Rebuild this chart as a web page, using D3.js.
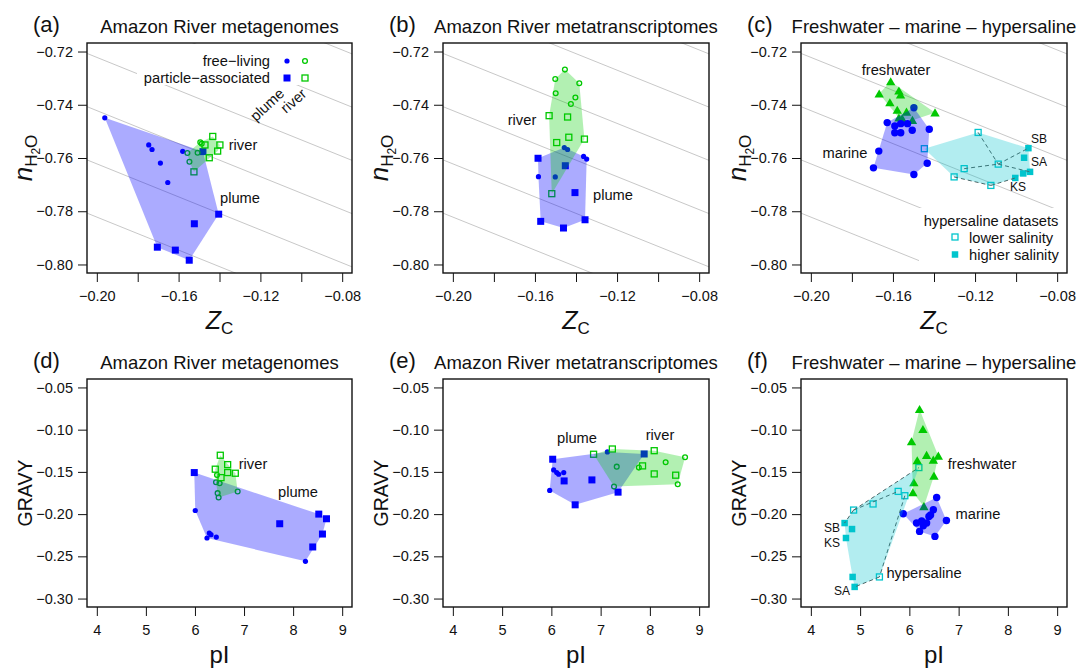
<!DOCTYPE html>
<html>
<head>
<meta charset="utf-8">
<script src="https://cdn.jsdelivr.net/npm/d3@7"></script>
<style>
body { margin: 0; background: #fff; }
text { font-family: "Liberation Sans", Arial, Helvetica, sans-serif; fill: #111; }
</style>
</head>
<body>
<div id="chart"></div>
<script>

// ---- data: (a) Amazon River metagenomes, [ZC, nH2O] ----
var mgPlumeFL = [[-0.1961,-0.7449],[-0.1746,-0.7551],[-0.1730,-0.7568],[-0.1689,-0.7619],[-0.1653,-0.7692],[-0.1580,-0.7575]];
var mgPlumePA = [[-0.1481,-0.7576],[-0.1404,-0.7811],[-0.1523,-0.7847],[-0.1704,-0.7935],[-0.1616,-0.7946],[-0.1548,-0.7984]];
var mgRiverFL = [[-0.1494,-0.7541],[-0.1487,-0.7546],[-0.1507,-0.7580],[-0.1557,-0.7581],[-0.1547,-0.7614]];
var mgRiverPA = [[-0.1433,-0.7519],[-0.1471,-0.7551],[-0.1398,-0.7551],[-0.1409,-0.7574],[-0.1450,-0.7599],[-0.1525,-0.7652]];

// ---- (b) Amazon River metatranscriptomes, [ZC, nH2O] ----
var mtPlumeFL = [[-0.1457,-0.7561],[-0.1441,-0.7568],[-0.1363,-0.7594],[-0.1348,-0.7604],[-0.1583,-0.7670],[-0.1501,-0.7671]];
var mtPlumePA = [[-0.1585,-0.7601],[-0.1452,-0.7629],[-0.1405,-0.7730],[-0.1572,-0.7838],[-0.1461,-0.7863],[-0.1356,-0.7832]];
var mtRiverFL = [[-0.1454,-0.7268],[-0.1501,-0.7303],[-0.1384,-0.7319],[-0.1499,-0.7357],[-0.1403,-0.7373],[-0.1425,-0.7397]];
var mtRiverPA = [[-0.1531,-0.7441],[-0.1441,-0.7446],[-0.1435,-0.7522],[-0.1494,-0.7542],[-0.1359,-0.7529],[-0.1518,-0.7734]];

// ---- (c) freshwater / marine / hypersaline, [ZC, nH2O] ----
var fwZC = [[-0.1611,-0.7313],[-0.1667,-0.7359],[-0.1571,-0.7348],[-0.1563,-0.7363],[-0.1615,-0.7392],[-0.1579,-0.7420],[-0.1534,-0.7427],[-0.1395,-0.7430],[-0.1571,-0.7449],[-0.1555,-0.7452],[-0.1505,-0.7458]];
var marZC = [[-0.1498,-0.7411],[-0.1628,-0.7467],[-0.1591,-0.7480],[-0.1562,-0.7471],[-0.1529,-0.7471],[-0.1506,-0.7496],[-0.1591,-0.7505],[-0.1562,-0.7505],[-0.1423,-0.7492],[-0.1669,-0.7574],[-0.1695,-0.7637],[-0.1498,-0.7662],[-0.1433,-0.7620]];
var hsLowZC = [[-0.1185,-0.7504],[-0.1447,-0.7565],[-0.1087,-0.7623],[-0.1253,-0.7640],[-0.1302,-0.7671],[-0.1123,-0.7703]];
var hsHighZC = [[-0.0940,-0.7563],[-0.0961,-0.7599],[-0.0932,-0.7652],[-0.0965,-0.7658],[-0.1004,-0.7675]];
// dashed links between hypersaline samples: [set, index, set, index]
var hsLinksZC = [["L",0,"L",2],["L",2,"H",0],["L",3,"L",2],["L",2,"H",2],["L",4,"L",5],["L",5,"H",4]];

// ---- (d) metagenomes, [pI, GRAVY] ----
var mgPlumeFL2 = [[6.006,-0.1957],[6.292,-0.2224],[6.327,-0.2244],[6.245,-0.2283],[6.435,-0.2272],[8.251,-0.2559]];
var mgPlumePA2 = [[5.986,-0.1508],[7.727,-0.2114],[8.523,-0.2000],[8.680,-0.2055],[8.598,-0.2236],[8.400,-0.2389]];
var mgRiverFL2 = [[6.449,-0.1536],[6.429,-0.1622],[6.503,-0.1634],[6.870,-0.1733],[6.462,-0.1752],[6.482,-0.1804]];
var mgRiverPA2 = [[6.516,-0.1303],[6.666,-0.1414],[6.414,-0.1468],[6.666,-0.1508],[6.822,-0.1516],[6.531,-0.1568]];

// ---- (e) metatranscriptomes, [pI, GRAVY] ----
var mtPlumeFL2 = [[6.047,-0.1477],[6.108,-0.1508],[6.149,-0.1528],[6.251,-0.1508],[5.966,-0.1720],[7.137,-0.1264]];
var mtPlumePA2 = [[6.027,-0.1350],[6.259,-0.1607],[6.823,-0.1595],[6.483,-0.1890],[7.354,-0.1740],[7.884,-0.1288]];
var mtRiverFL2 = [[7.327,-0.1438],[7.272,-0.1674],[7.776,-0.1449],[8.320,-0.1386],[8.714,-0.1327],[8.565,-0.1646]];
var mtRiverPA2 = [[6.857,-0.1291],[7.238,-0.1229],[8.088,-0.1249],[7.851,-0.1429],[8.088,-0.1524],[8.524,-0.1539]];

// ---- (f) freshwater / marine / hypersaline, [pI, GRAVY] ----
var fwPI = [[6.207,-0.0760],[6.275,-0.0996],[6.044,-0.1142],[6.350,-0.1303],[6.588,-0.1311],[6.486,-0.1359],[6.160,-0.1367],[6.091,-0.1627],[6.499,-0.1548],[6.071,-0.1745],[6.295,-0.1910]];
var marPI = [[5.875,-0.1996],[6.554,-0.1804],[6.487,-0.1949],[6.752,-0.2075],[6.146,-0.2106],[6.397,-0.2028],[6.350,-0.2106],[6.282,-0.2138],[6.207,-0.2205],[6.519,-0.2264],[6.430,-0.2010],[6.250,-0.2080]];
var hsLowPI = [[4.868,-0.1952],[5.263,-0.1880],[5.773,-0.1731],[5.908,-0.1782],[6.193,-0.1449],[5.392,-0.2744]];
var hsHighPI = [[4.685,-0.2106],[4.836,-0.2177],[4.713,-0.2283],[4.848,-0.2744],[4.889,-0.2862]];
var hsLinksPI = [["L",0,"L",4],["L",0,"L",2],["L",3,"L",5],["L",5,"H",4],["L",0,"H",0]];

// axes
var zcTicks = [-0.20,-0.18,-0.16,-0.14,-0.12,-0.10,-0.08];
var zcLabels = [-0.20,-0.16,-0.12,-0.08];
var nwTicks = [-0.80,-0.78,-0.76,-0.74,-0.72];
var piTicks = [4,5,6,7,8,9];
var gravyTicks = [-0.30,-0.25,-0.20,-0.15,-0.10,-0.05];

// background reference lines nH2O = b + slope*ZC
var refSlope = -0.31;
var refIntercepts = [-0.7042,-0.7242,-0.7442,-0.7642,-0.7842,-0.8042,-0.8242,-0.8442];

var BLUE = "#0000ff", GREEN = "#00c800", CYAN = "#00c5cd";
var BLUEFILL = "rgba(0,0,255,0.33)", GREENFILL = "rgba(0,205,0,0.3)", CYANFILL = "rgba(0,197,205,0.3)";

var svg = d3.select("#chart").append("svg")
    .attr("width", 1078)
    .attr("height", 669);

var cols = [[87,352],[443,709],[801,1067]];
var rows = [[43,273],[379,607]];

function pad(l){ var d = (l[1]-l[0])*0.04; return [l[0]-d, l[1]+d]; }

var clipN = 0;
function makePanel(col, row, xlim, ylim, tag, title){
  var p = {};
  p.l = cols[col][0]; p.r = cols[col][1]; p.t = rows[row][0]; p.b = rows[row][1];
  p.x = d3.scaleLinear().domain(pad(xlim)).range([p.l, p.r]);
  p.y = d3.scaleLinear().domain(pad(ylim)).range([p.b, p.t]);
  p.g = svg.append("g");
  var id = "clip" + (clipN++);
  svg.append("clipPath").attr("id", id).append("rect")
      .attr("x", p.l).attr("y", p.t).attr("width", p.r-p.l).attr("height", p.b-p.t);
  p.inner = p.g.append("g").attr("clip-path", "url(#"+id+")");
  // panel tag and title
  p.g.append("text").attr("x", p.l-54).attr("y", p.t-11)
      .attr("font-size", "22px").text(tag);
  p.g.append("text").attr("x", (p.l+p.r)/2).attr("y", p.t-10)
      .attr("text-anchor", "middle").attr("font-size", "18.5px").text(title);
  return p;
}

function axes(p, xt, xl, yt, fmtx, fmty){
  var xa = d3.axisBottom(p.x).tickValues(xt).tickSize(9).tickPadding(9)
      .tickFormat(function(d){ return xl.some(function(v){return Math.abs(v-d)<1e-9;}) ? fmtx(d) : ""; });
  var ya = d3.axisLeft(p.y).tickValues(yt).tickSize(9).tickPadding(5).tickFormat(fmty);
  var gx = p.g.append("g").attr("transform", "translate(0,"+p.b+")").call(xa);
  var gy = p.g.append("g").attr("transform", "translate("+p.l+",0)").call(ya);
  [gx, gy].forEach(function(a){
    a.select(".domain").remove();
    a.selectAll("line").attr("stroke", "#111").attr("stroke-width", 1);
    a.selectAll("text").attr("font-size", "14.5px").attr("fill", "#111")
        .attr("font-family", "Liberation Sans, Arial, sans-serif");
  });
}

function frame(p){
  p.g.append("rect").attr("x", p.l).attr("y", p.t).attr("width", p.r-p.l).attr("height", p.b-p.t)
      .attr("fill", "none").attr("stroke", "#111").attr("stroke-width", 1.4);
}

function refLines(p){
  var d = p.x.domain();
  refIntercepts.forEach(function(b){
    p.inner.append("line")
        .attr("x1", p.x(d[0])).attr("y1", p.y(b + refSlope*d[0]))
        .attr("x2", p.x(d[1])).attr("y2", p.y(b + refSlope*d[1]))
        .attr("stroke", "#c8c8c8").attr("stroke-width", 1);
  });
}

function dots(p, data, r, color){
  p.inner.selectAll(null).data(data).enter().append("circle")
      .attr("cx", function(d){return p.x(d[0]);}).attr("cy", function(d){return p.y(d[1]);})
      .attr("r", r).attr("fill", color);
}
function rings(p, data, r, color){
  p.inner.selectAll(null).data(data).enter().append("circle")
      .attr("cx", function(d){return p.x(d[0]);}).attr("cy", function(d){return p.y(d[1]);})
      .attr("r", r).attr("fill", "none").attr("stroke", color).attr("stroke-width", 1.3);
}
function squares(p, data, s, color, open){
  p.inner.selectAll(null).data(data).enter().append("rect")
      .attr("x", function(d){return p.x(d[0]) - s/2;}).attr("y", function(d){return p.y(d[1]) - s/2;})
      .attr("width", s).attr("height", s)
      .attr("fill", open ? "none" : color).attr("stroke", open ? color : "none").attr("stroke-width", 1.3);
}
function triangles(p, data, color){
  var sym = d3.symbol().type(d3.symbolTriangle).size(38);
  p.inner.selectAll(null).data(data).enter().append("path")
      .attr("d", sym).attr("fill", color)
      .attr("transform", function(d){ return "translate("+p.x(d[0])+","+(p.y(d[1])+1)+")"; });
}
function hull(p, data, fill){
  var pts = data.map(function(d){ return [p.x(d[0]), p.y(d[1])]; });
  var h = d3.polygonHull(pts);
  p.inner.append("path").attr("d", "M" + h.join("L") + "Z").attr("fill", fill);
}
function label(p, x, y, txt, size, anchor){
  p.g.append("text").attr("x", x).attr("y", y).attr("font-size", (size||14.7)+"px")
      .attr("text-anchor", anchor || "middle").text(txt);
}
function links(p, low, high, lk){
  lk.forEach(function(k){
    var a = (k[0]=="L" ? low : high)[k[1]], b = (k[2]=="L" ? low : high)[k[3]];
    p.inner.append("line").attr("x1", p.x(a[0])).attr("y1", p.y(a[1]))
        .attr("x2", p.x(b[0])).attr("y2", p.y(b[1]))
        .attr("stroke", "#555").attr("stroke-width", 1).attr("stroke-dasharray", "4,3");
  });
}

function zcLabel(p){
  var t = p.g.append("text").attr("x", (p.l+p.r)/2).attr("y", p.b+56).attr("text-anchor", "middle");
  t.append("tspan").attr("font-size", "25px").attr("font-style", "italic").text("Z");
  t.append("tspan").attr("font-size", "17px").attr("dy", 5).text("C");
}
function nwLabel(p){
  var t = p.g.append("text").attr("transform", "translate("+(p.l-55)+","+((p.t+p.b)/2)+") rotate(-90)")
      .attr("text-anchor", "middle");
  t.append("tspan").attr("font-size", "26px").attr("font-style", "italic").text("n");
  t.append("tspan").attr("font-size", "17px").attr("dy", 5).text("H");
  t.append("tspan").attr("font-size", "12px").attr("dy", 3).text("2");
  t.append("tspan").attr("font-size", "17px").attr("dy", -3).text("O");
}
function bottomLabels(p){
  p.g.append("text").attr("x", (p.l+p.r)/2).attr("y", p.b+56).attr("text-anchor", "middle")
      .attr("font-size", "24px").text("pI");
  p.g.append("text").attr("transform", "translate("+(p.l-55)+","+((p.t+p.b)/2)+") rotate(-90)")
      .attr("text-anchor", "middle").attr("font-size", "19.5px").text("GRAVY");
}

var fz = d3.format(".2f");

// ---------- (a) ----------
var pa = makePanel(0, 0, [-0.20,-0.08], [-0.80,-0.72], "(a)", "Amazon River metagenomes");
refLines(pa);
// legend background
pa.inner.append("rect").attr("x", 137).attr("y", 44).attr("width", 177).attr("height", 41).attr("fill", "#fff");
dots(pa, mgPlumeFL, 2.6, BLUE);
squares(pa, mgPlumePA, 7, BLUE, false);
rings(pa, mgRiverFL, 2.4, GREEN);
squares(pa, mgRiverPA, 6, GREEN, true);
hull(pa, mgPlumeFL.concat(mgPlumePA), BLUEFILL);
hull(pa, mgRiverFL.concat(mgRiverPA), GREENFILL);
label(pa, 243, 150, "river");
label(pa, 240, 203, "plume");
pa.g.append("text").attr("transform", "translate(256,122) rotate(-43)").attr("font-size", "14.7px").text("plume");
pa.g.append("text").attr("transform", "translate(286,114) rotate(-41)").attr("font-size", "14.7px").text("river");
label(pa, 270, 66, "free\u2212living", 14.7, "end");
label(pa, 270, 83, "particle\u2212associated", 14.7, "end");
pa.g.append("circle").attr("cx", 287).attr("cy", 61).attr("r", 2.6).attr("fill", BLUE);
pa.g.append("circle").attr("cx", 305).attr("cy", 61).attr("r", 2.4).attr("fill", "none").attr("stroke", GREEN).attr("stroke-width", 1.3);
pa.g.append("rect").attr("x", 283.5).attr("y", 74.5).attr("width", 7).attr("height", 7).attr("fill", BLUE);
pa.g.append("rect").attr("x", 302).attr("y", 75).attr("width", 6).attr("height", 6).attr("fill", "none").attr("stroke", GREEN).attr("stroke-width", 1.3);
axes(pa, zcTicks, zcLabels, nwTicks, fz, fz);
zcLabel(pa); nwLabel(pa); frame(pa);

// ---------- (b) ----------
var pb = makePanel(1, 0, [-0.20,-0.08], [-0.80,-0.72], "(b)", "Amazon River metatranscriptomes");
refLines(pb);
dots(pb, mtPlumeFL, 2.6, BLUE);
squares(pb, mtPlumePA, 7, BLUE, false);
rings(pb, mtRiverFL, 2.4, GREEN);
squares(pb, mtRiverPA, 6, GREEN, true);
hull(pb, mtPlumeFL.concat(mtPlumePA), BLUEFILL);
hull(pb, mtRiverFL.concat(mtRiverPA), GREENFILL);
label(pb, 522, 125, "river");
label(pb, 613, 200, "plume");
axes(pb, zcTicks, zcLabels, nwTicks, fz, fz);
zcLabel(pb); nwLabel(pb); frame(pb);

// ---------- (c) ----------
var pc = makePanel(2, 0, [-0.20,-0.08], [-0.80,-0.72], "(c)", "Freshwater \u2013 marine \u2013 hypersaline");
refLines(pc);
pc.inner.append("rect").attr("x", 919).attr("y", 208).attr("width", 150).attr("height", 70).attr("fill", "#fff");
triangles(pc, fwZC, GREEN);
dots(pc, marZC, 3.7, BLUE);
squares(pc, hsLowZC, 6, CYAN, true);
squares(pc, hsHighZC, 6.5, CYAN, false);
links(pc, hsLowZC, hsHighZC, hsLinksZC);
hull(pc, fwZC, GREENFILL);
hull(pc, marZC, BLUEFILL);
hull(pc, hsLowZC.concat(hsHighZC), CYANFILL);
label(pc, 896, 75, "freshwater");
label(pc, 845, 158, "marine");
label(pc, 1039, 143, "SB", 12);
label(pc, 1039, 166, "SA", 12);
label(pc, 1018, 191, "KS", 12);
label(pc, 991, 226, "hypersaline datasets");
label(pc, 969, 243, "lower salinity", 14.7, "start");
label(pc, 969, 260, "higher salinity", 14.7, "start");
pc.g.append("rect").attr("x", 952).attr("y", 234).attr("width", 6).attr("height", 6).attr("fill", "none").attr("stroke", CYAN).attr("stroke-width", 1.3);
pc.g.append("rect").attr("x", 951.75).attr("y", 251.25).attr("width", 6.5).attr("height", 6.5).attr("fill", CYAN);
axes(pc, zcTicks, zcLabels, nwTicks, fz, fz);
zcLabel(pc); nwLabel(pc); frame(pc);

// ---------- (d) ----------
var pd = makePanel(0, 1, [4,9], [-0.30,-0.05], "(d)", "Amazon River metagenomes");
dots(pd, mgPlumeFL2, 2.6, BLUE);
squares(pd, mgPlumePA2, 7, BLUE, false);
rings(pd, mgRiverFL2, 2.4, GREEN);
squares(pd, mgRiverPA2, 6, GREEN, true);
hull(pd, mgPlumeFL2.concat(mgPlumePA2), BLUEFILL);
hull(pd, mgRiverFL2.concat(mgRiverPA2), GREENFILL);
label(pd, 253, 469, "river");
label(pd, 298, 497, "plume");
axes(pd, piTicks, piTicks, gravyTicks, d3.format("d"), fz);
bottomLabels(pd); frame(pd);

// ---------- (e) ----------
var pe = makePanel(1, 1, [4,9], [-0.30,-0.05], "(e)", "Amazon River metatranscriptomes");
dots(pe, mtPlumeFL2, 2.6, BLUE);
squares(pe, mtPlumePA2, 7, BLUE, false);
rings(pe, mtRiverFL2, 2.4, GREEN);
squares(pe, mtRiverPA2, 6, GREEN, true);
hull(pe, mtPlumeFL2.concat(mtPlumePA2), BLUEFILL);
hull(pe, mtRiverFL2.concat(mtRiverPA2), GREENFILL);
label(pe, 577, 443, "plume");
label(pe, 660, 440, "river");
axes(pe, piTicks, piTicks, gravyTicks, d3.format("d"), fz);
bottomLabels(pe); frame(pe);

// ---------- (f) ----------
var pf = makePanel(2, 1, [4,9], [-0.30,-0.05], "(f)", "Freshwater \u2013 marine \u2013 hypersaline");
triangles(pf, fwPI, GREEN);
dots(pf, marPI, 3.7, BLUE);
squares(pf, hsLowPI, 6, CYAN, true);
squares(pf, hsHighPI, 6.5, CYAN, false);
links(pf, hsLowPI, hsHighPI, hsLinksPI);
hull(pf, fwPI, GREENFILL);
hull(pf, marPI, BLUEFILL);
hull(pf, hsLowPI.concat(hsHighPI), CYANFILL);
label(pf, 982, 469, "freshwater");
label(pf, 978, 519, "marine");
label(pf, 924, 578, "hypersaline");
label(pf, 832, 532, "SB", 12);
label(pf, 832, 547, "KS", 12);
label(pf, 842, 595, "SA", 12);
axes(pf, piTicks, piTicks, gravyTicks, d3.format("d"), fz);
bottomLabels(pf); frame(pf);

</script>
</body>
</html>
